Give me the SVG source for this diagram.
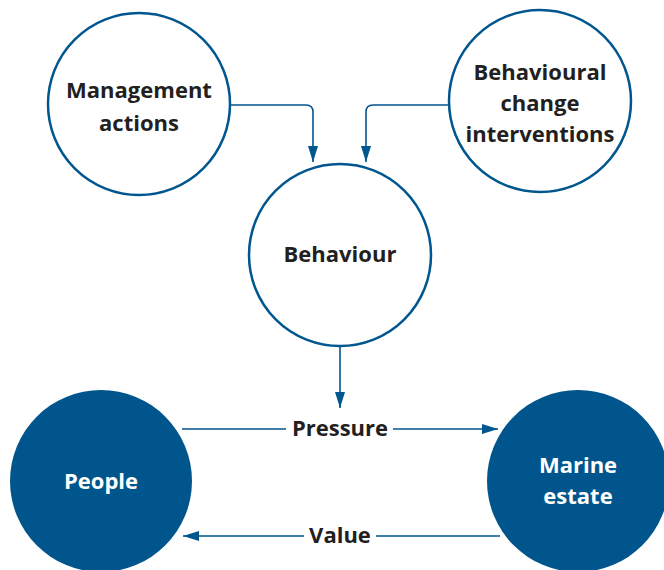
<svg xmlns="http://www.w3.org/2000/svg" width="664" height="570" viewBox="0 0 664 570">
<style>
.ring{fill:#fff;stroke:#00568f;stroke-width:2.5}
.solid{fill:#00568c;stroke:none}
.lbl{font-family:"Open Sans","Liberation Sans",sans-serif;font-weight:700;font-size:22px;fill:#231f20;text-anchor:middle}
.wl{fill:#fff}
.con{fill:none;stroke:#00568f;stroke-width:1.6}
</style>
<defs>
<marker id="ahl" viewBox="0 0 16 10" refX="16" refY="5" markerWidth="16" markerHeight="10" markerUnits="userSpaceOnUse" orient="auto">
<path d="M0,0 L16,5 L0,10 Z" fill="#00568f"/>
</marker>
</defs>
<g id="connectors">
<path class="con" d="M230,105 H306 Q313,105 313,112 V162" marker-end="url(#ahl)"/>
<path class="con" d="M449,105 H373 Q366,105 366,112 V162" marker-end="url(#ahl)"/>
<path class="con" d="M340,346 V408" marker-end="url(#ahl)"/>
<path class="con" d="M182,429 H286 M393,429 H498" marker-end="url(#ahl)"/>
<path class="con" d="M500,536 H376 M304,536 H183" marker-end="url(#ahl)"/>
</g>
<g id="management">
<circle class="ring" cx="139" cy="104" r="91"/>
<text class="lbl" x="139" y="98">Management</text>
<text class="lbl" x="139" y="131">actions</text>
</g>
<g id="interventions">
<circle class="ring" cx="540" cy="101" r="91"/>
<text class="lbl" x="540" y="80">Behavioural</text>
<text class="lbl" x="540" y="111">change</text>
<text class="lbl" x="540" y="142">interventions</text>
</g>
<g id="behaviour">
<circle class="ring" cx="340" cy="255" r="91"/>
<text class="lbl" x="340" y="262">Behaviour</text>
</g>
<g id="people">
<circle class="solid" cx="101" cy="481" r="91"/>
<text class="lbl wl" x="101" y="489">People</text>
</g>
<g id="marine">
<circle class="solid" cx="578" cy="481" r="91"/>
<text class="lbl wl" x="578" y="473">Marine</text>
<text class="lbl wl" x="578" y="504">estate</text>
</g>
<g id="edge-labels">
<text class="lbl" x="340" y="436">Pressure</text>
<text class="lbl" x="340" y="543">Value</text>
</g>
</svg>
